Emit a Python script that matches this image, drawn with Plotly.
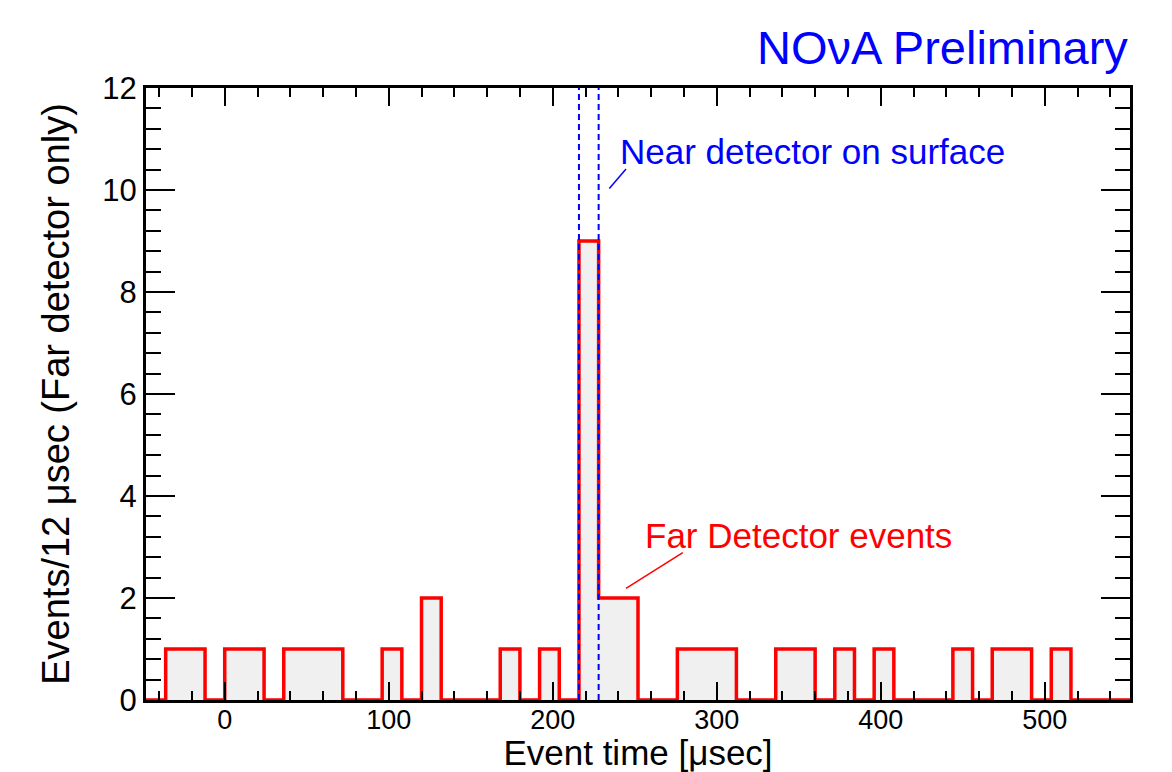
import plotly.graph_objects as go

# Histogram: 50 bins of 12 usec from -48 to 552
bin_start = -48
bin_width = 12
counts = [0, 1, 1, 0, 1, 1, 0, 1, 1, 1,
          0, 0, 1, 0, 2, 0, 0, 0, 1, 0,
          1, 0, 9, 2, 2, 0, 0, 1, 1, 1,
          0, 0, 1, 1, 0, 1, 0, 1, 0, 0,
          0, 1, 0, 1, 1, 0, 1, 0, 0, 0]
near_window = [216, 228]  # Near detector on surface (usec)

edges = [bin_start + bin_width * i for i in range(len(counts) + 1)]
xs = edges
ys = counts + [counts[-1]]

FONT = "Liberation Sans, Arial, Helvetica, sans-serif"

fig = go.Figure()
fig.add_trace(go.Scatter(
    x=xs, y=ys, mode="lines", line=dict(color="#ff0000", width=3.5, shape="hv"),
    fill="tozeroy", fillcolor="#f0f0f0", hoverinfo="skip", showlegend=False))

for xv in near_window:
    fig.add_shape(type="line", x0=xv, x1=xv, y0=0, y1=12, xref="x", yref="y",
                  line=dict(color="#0000ff", width=2, dash="6px,4px"), layer="above")

# pointer lines
fig.add_shape(type="line", x0=244.7, y0=10.41, x1=234.5, y1=10.03,
              line=dict(color="#0000ff", width=1.5))
fig.add_shape(type="line", x0=279.3, y0=2.89, x1=244.7, y1=2.19,
              line=dict(color="#ff0000", width=1.5))

fig.add_annotation(x=240, y=10.76, xref="x", yref="y", text="Near detector on surface",
                   showarrow=False, xanchor="left", yanchor="middle",
                   font=dict(family=FONT, size=35, color="#0000ff"))
fig.add_annotation(x=255.2, y=3.23, xref="x", yref="y", text="Far Detector events",
                   showarrow=False, xanchor="left", yanchor="middle",
                   font=dict(family=FONT, size=35, color="#ff0000"))
fig.add_annotation(x=1.0, y=1.0, xref="paper", yref="paper", text="NOνA Preliminary",
                   showarrow=False, xanchor="right", yanchor="bottom", yshift=12,
                   font=dict(family=FONT, size=47, color="#0000ff"))

fig.update_xaxes(
    range=[-48, 552], showline=True, linecolor="black", linewidth=3, mirror="allticks",
    ticks="inside", ticklen=18, tickwidth=2, tickcolor="black", dtick=100, tick0=0,
    minor=dict(ticks="inside", dtick=20, tick0=0, ticklen=9, tickwidth=2, tickcolor="black"),
    showgrid=False, zeroline=False, ticklabelstandoff=-6,
    tickfont=dict(family=FONT, size=27, color="black"),
    title=dict(text="Event time [μsec]", font=dict(family=FONT, size=35, color="black"), standoff=5),
)
fig.update_yaxes(
    range=[0, 12], showline=True, linecolor="black", linewidth=3, mirror="allticks",
    ticks="inside", ticklen=29, tickwidth=2, tickcolor="black", dtick=2, tick0=0,
    minor=dict(ticks="inside", dtick=0.4, tick0=0, ticklen=15, tickwidth=2, tickcolor="black"),
    showgrid=False, zeroline=False,
    tickfont=dict(family=FONT, size=31, color="black"),
    title=dict(text="Events/12 μsec (Far detector only)", font=dict(family=FONT, size=38, color="black"), standoff=22),
)

fig.update_layout(
    width=1172, height=772, autosize=False,
    margin=dict(l=146, r=42, t=88, b=72, autoexpand=False),
    plot_bgcolor="white", paper_bgcolor="white", showlegend=False,
)

fig.write_html("out.html")
